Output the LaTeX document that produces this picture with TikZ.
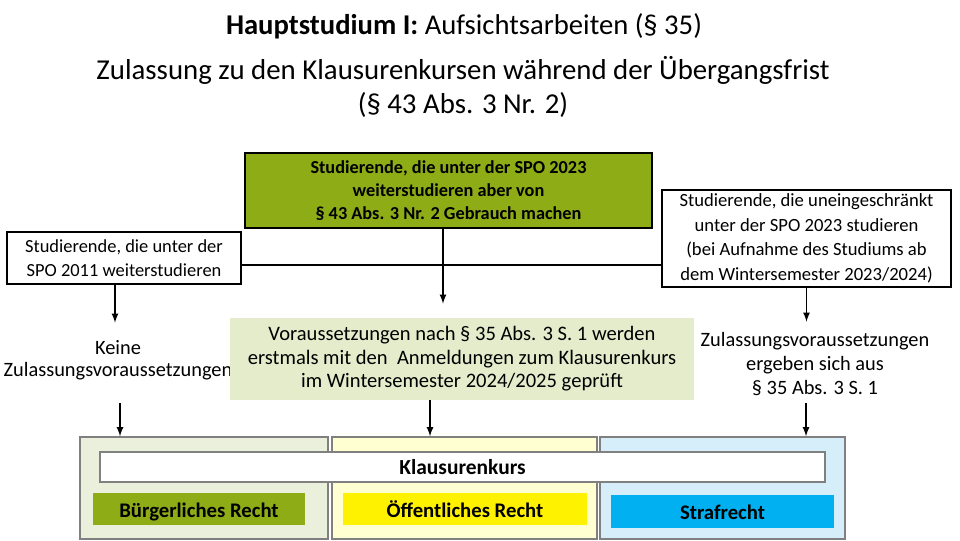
\documentclass[tikz,border=0pt]{standalone}
\usepackage{fontspec}
\setmainfont{Carlito}
\usepackage{tikz}
\usetikzlibrary{arrows,positioning}
\definecolor{olivgruen}{HTML}{8DAC16}
\definecolor{hellgruen}{HTML}{E5ECCC}
\definecolor{blassgruen}{HTML}{EBF0DC}
\definecolor{blassgelb}{HTML}{FFFFD2}
\definecolor{blassblau}{HTML}{D5EEFA}
\definecolor{strafblau}{HTML}{00B0F0}
\tikzset{
  kasten/.style={draw, thick, align=center, inner sep=0pt, font=\fontsize{10.5}{13.8}\selectfont},
  spalte/.style={draw=gray, thick, inner sep=0pt},
  fach/.style={inner sep=0pt, text height=2ex, text depth=0pt, font=\fontsize{11.8}{13}\selectfont\bfseries},
  pfeil/.style={-latex, thick}
}
\begin{document}
\begin{tikzpicture}[x=0.2mm, y=-0.2mm]
  \useasboundingbox (0,0) rectangle (960,540);
  % title
  \node (titel) at (464,26) {\fontsize{16.3}{19}\selectfont\textbf{Hauptstudium I:} Aufsichtsarbeiten (§ 35)};
  \node [align=center, font=\fontsize{16.4}{19.5}\selectfont] (untertitel) at (463,87)
    {Zulassung zu den Klausurenkursen während der Übergangsfrist\\(§ 43 Abs. 3 Nr. 2)};
  % three groups of students
  \node [kasten, fill=olivgruen, minimum width=407*0.2mm, minimum height=75*0.2mm,
         font=\fontsize{10.4}{13}\selectfont\bfseries] (uebergang) at (448.5,190.5)
    {Studierende, die unter der SPO 2023\\weiterstudieren aber von\\§ 43 Abs. 3 Nr. 2 Gebrauch machen};
  \node [kasten, minimum width=234*0.2mm, minimum height=52*0.2mm] (spoalt) at (124,258)
    {Studierende, die unter der\\SPO 2011 weiterstudieren};
  \node [kasten, minimum width=289*0.2mm, minimum height=97*0.2mm,
         font=\fontsize{10.6}{14}\selectfont] (sponeu) at (806.5,238.5)
    {Studierende, die uneingeschränkt\\unter der SPO 2023 studieren\\(bei Aufnahme des Studiums ab\\dem Wintersemester 2023/2024)};
  \coordinate (balken) at (0,265);
  \draw [thick] (spoalt.east |- balken) -- (sponeu.west |- balken);
  % requirements
  \node [align=center, font=\fontsize{11.6}{12.8}\selectfont] (keine) at (118,360)
    {Keine\\Zulassungsvoraussetzungen};
  \node [fill=hellgruen, align=center, minimum width=464*0.2mm, minimum height=82*0.2mm,
         inner sep=0pt, font=\fontsize{11.7}{13.4}\selectfont] (pruefung) at (462,359)
    {Voraussetzungen nach § 35 Abs. 3 S. 1 werden\\erstmals mit den\ \ Anmeldungen zum Klausurenkurs\\im Wintersemester 2024/2025 geprüft};
  \node [align=center, font=\fontsize{11.6}{13.6}\selectfont] (ergeben) at (815,364)
    {Zulassungsvoraussetzungen\\ergeben sich aus\\§ 35 Abs. 3 S. 1};
  \draw [pfeil] ([xshift=-9*0.2mm]spoalt.south) -- ++(0,38);
  \draw [pfeil] ([xshift=-5.5*0.2mm]uebergang.south) -- ++(0,75);
  \draw [pfeil] (sponeu.south) -- ++(0,34);
  % Klausurenkurs
  \node [spalte, fill=blassgruen, minimum width=248*0.2mm, minimum height=102*0.2mm] (links) at (204,488) {};
  \node [spalte, fill=blassgelb, minimum width=265*0.2mm, minimum height=102*0.2mm] (mitte) at (464.5,488) {};
  \node [spalte, fill=blassblau, minimum width=245*0.2mm, minimum height=102*0.2mm] (rechts) at (722.5,488) {};
  \draw [pfeil] (120,403) -- (links.north -| 120,0);
  \draw [pfeil] (pruefung.south -| 430,0) -- (mitte.north -| 430,0);
  \draw [pfeil] (806,403) -- (rechts.north -| 806,0);
  \node [spalte, fill=white, minimum width=725*0.2mm, minimum height=30*0.2mm,
         font=\fontsize{12.2}{13}\selectfont\bfseries] (kurs) at (462.5,467) {Klausurenkurs};
  \node [fach, fill=olivgruen, minimum width=212*0.2mm, minimum height=32*0.2mm] (buergerlich) at (199,509) {Bürgerliches Recht};
  \node [fach, fill=yellow, minimum width=244*0.2mm, minimum height=32*0.2mm] (oeffentlich) at (465,509) {Öffentliches Recht};
  \node [fach, fill=strafblau, minimum width=223*0.2mm, minimum height=33*0.2mm] (straf) at (722.5,511) {Strafrecht};
\end{tikzpicture}
\end{document}
